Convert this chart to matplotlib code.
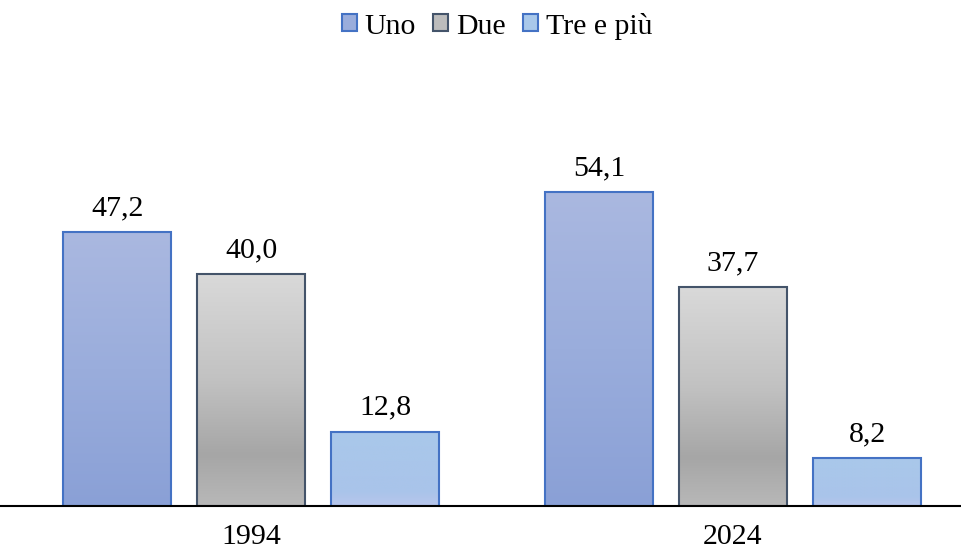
import numpy as np
import matplotlib.pyplot as plt
from matplotlib.colors import LinearSegmentedColormap
from matplotlib.patches import Patch

years = ['1994', '2024']
series = ['Uno', 'Due', 'Tre e più']
uno = [47.2, 54.1]
due = [40.0, 37.7]
tre = [12.8, 8.2]

plt.rcParams['font.family'] = ['Liberation Serif', 'DejaVu Serif']

# gradient stops (position, color) top -> bottom, and edge colors per series
grads = [
    [(0, '#aab8e0'), (0.5, '#9aaddc'), (1, '#8aa0d6')],
    [(0, '#d9d9d9'), (0.45, '#c2c2c2'), (0.78, '#a6a6a6'), (1, '#b8b8b8')],
    [(0, '#a9c8ea'), (0.8, '#a9c4ea'), (1, '#b8c6ec')],
]
edges = ['#4472c4', '#44546a', '#4472c4']
faces = ['#9aaddc', '#bcbcbc', '#a9c8ea']

fig = plt.figure(figsize=(9.61, 5.5), dpi=100)
ax = fig.add_axes([0, 44 / 550, 1, 348 / 550])

x = np.arange(len(years))
width = 0.224
step = 0.278
values = [uno, due, tre]

for i, vals in enumerate(values):
    pos = x + (i - 1) * step
    bars = ax.bar(pos, vals, width, facecolor='none', edgecolor=edges[i],
                  linewidth=1.5, zorder=3)
    cmap = LinearSegmentedColormap.from_list('g%d' % i, grads[i])
    grad = np.linspace(0, 1, 256).reshape(-1, 1)
    for b, v in zip(bars, vals):
        bx, bw = b.get_x(), b.get_width()
        im = ax.imshow(grad, cmap=cmap, aspect='auto', zorder=2,
                       extent=[bx, bx + bw, 0, v], origin='upper')
        im.set_clip_path(b)
        ax.annotate(f'{v:.1f}'.replace('.', ','), (b.get_x() + bw / 2, v),
                    xytext=(0, 8), textcoords='offset points',
                    ha='center', va='bottom', fontsize=21.5)

ax.set_xlim(-0.521, 1.473)
ax.set_ylim(0, 60)
ax.set_xticks(x)
ax.set_xticklabels(years, fontsize=21.5)
ax.tick_params(axis='x', length=0, pad=13)
ax.set_yticks([])
for s in ['top', 'right', 'left']:
    ax.spines[s].set_visible(False)
ax.spines['bottom'].set_linewidth(1.5)
ax.spines['bottom'].set_color('black')
ax.spines['bottom'].set_zorder(4)

handles = [Patch(facecolor=faces[i], edgecolor=edges[i], linewidth=1.5, label=series[i])
           for i in range(3)]
fig.legend(handles=handles, loc='center', bbox_to_anchor=(0.517, 1 - 26 / 550), ncol=3,
           frameon=False, fontsize=21.5, handlelength=0.5, handleheight=0.5,
           handletextpad=0.25, columnspacing=0.6)

fig.savefig('out.png', dpi=100)
